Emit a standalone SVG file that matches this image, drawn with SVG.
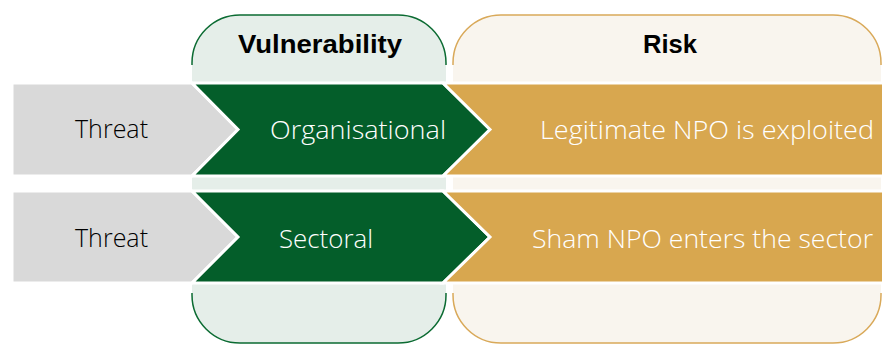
<svg xmlns="http://www.w3.org/2000/svg" width="882" height="345" viewBox="0 0 882 345">
<style>
.hdr{font-family:"Liberation Sans",Arial,sans-serif;font-weight:bold;font-size:26px;fill:#000;text-anchor:middle}
.lbl{font-family:"Open Sans","Liberation Sans",Arial,sans-serif;font-weight:300;font-size:26px}
.dk{fill:#000000}
.wt{fill:#ffffff}
.row{stroke:#ffffff;stroke-width:3;stroke-linejoin:miter}
.gray{fill:#D9D9D9}
.green{fill:#045E2A}
.gold{fill:#D8A74F}
</style>
<rect width="882" height="345" fill="#ffffff"/>
<g id="panel-vulnerability">
<path d="M192,63 A48,48 0 0 1 240,15 H398 A48,48 0 0 1 446,63 V295 A48,48 0 0 1 398,343 H240 A48,48 0 0 1 192,295 Z" fill="#E5EEE9"/>
<path d="M192,65 V63 A48,48 0 0 1 240,15 H398 A48,48 0 0 1 446,63 V65" fill="none" stroke="#0B6B32" stroke-width="1.5"/>
<path d="M192,293 V295 A48,48 0 0 0 240,343 H398 A48,48 0 0 0 446,295 V293" fill="none" stroke="#0B6B32" stroke-width="1.5"/>
<text class="hdr" x="320" y="53" textLength="164" lengthAdjust="spacingAndGlyphs">Vulnerability</text>
</g>
<g id="panel-risk">
<path d="M453,63 A48,48 0 0 1 501,15 H833 A48,48 0 0 1 881,63 V295 A48,48 0 0 1 833,343 H501 A48,48 0 0 1 453,295 Z" fill="#F9F5EE"/>
<path d="M453,65 V63 A48,48 0 0 1 501,15 H833 A48,48 0 0 1 881,63 V65" fill="none" stroke="#D9A959" stroke-width="1.5"/>
<path d="M453,293 V295 A48,48 0 0 0 501,343 H833 A48,48 0 0 0 881,295 V293" fill="none" stroke="#D9A959" stroke-width="1.5"/>
<text class="hdr" x="670" y="53" textLength="54" lengthAdjust="spacingAndGlyphs">Risk</text>
</g>
<g id="connectors"></g>
<g id="row1-threat">
<path class="row gray" d="M12,83 H192 L238,129.5 L192,176 H12 Z"/>
<text class="lbl dk" x="75" y="138" textLength="73" lengthAdjust="spacingAndGlyphs">Threat</text>
</g>
<g id="row1-organisational">
<path class="row green" d="M192,83 H443 L490,129.5 L443,176 H192 L238,129.5 Z"/>
<text class="lbl wt" x="270" y="139" textLength="176" lengthAdjust="spacingAndGlyphs">Organisational</text>
</g>
<g id="row1-risk">
<path class="row gold" d="M443,83 H884 V176 H443 L490,129.5 Z"/>
<text class="lbl wt" x="540" y="139" textLength="334" lengthAdjust="spacingAndGlyphs">Legitimate  NPO is exploited</text>
</g>
<g id="row2-threat">
<path class="row gray" d="M12,191 H192 L238,237 L192,283 H12 Z"/>
<text class="lbl dk" x="75" y="247" textLength="73" lengthAdjust="spacingAndGlyphs">Threat</text>
</g>
<g id="row2-sectoral">
<path class="row green" d="M192,191 H443 L490,237 L443,283 H192 L238,237 Z"/>
<text class="lbl wt" x="279" y="248" textLength="94" lengthAdjust="spacingAndGlyphs">Sectoral</text>
</g>
<g id="row2-risk">
<path class="row gold" d="M443,191 H884 V283 H443 L490,237 Z"/>
<text class="lbl wt" x="532" y="248" textLength="341" lengthAdjust="spacingAndGlyphs">Sham NPO enters the sector</text>
</g>
</svg>
